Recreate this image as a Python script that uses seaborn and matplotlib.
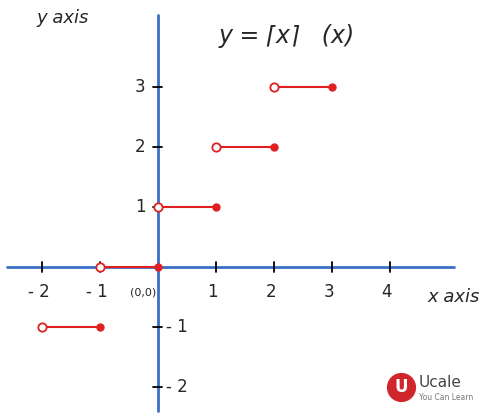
import numpy as np
import matplotlib.pyplot as plt
import seaborn as sns

sns.set_style("white")

# ceiling function pieces: open at left end, closed at right end
seg_left = [-2, -1, 0, 1, 2]
seg_right = [-1, 0, 1, 2, 3]
seg_y = [-1, 0, 1, 2, 3]
x_ticks = [-2, -1, 1, 2, 3, 4]
y_ticks = [-2, -1, 1, 2, 3]

fig = plt.figure(figsize=(5, 4.2), dpi=100)
ax = fig.add_axes([0, 0, 1, 1])
ax.set_xlim(-2.72, 5.9)
ax.set_ylim(-2.55, 4.45)
ax.axis("off")

blue = "#3a6fc4"
red = "#e02020"
ax.plot([-2.6, 5.1], [0, 0], color=blue, lw=2)
ax.plot([0, 0], [-2.4, 4.2], color=blue, lw=2)

for x in x_ticks:
    ax.plot([x, x], [-0.08, 0.08], color="black", lw=1.3)
    ax.text(x - 0.05, -0.42, str(x).replace("-", "- "), ha="center", va="center", fontsize=12)
for y in y_ticks:
    ax.plot([-0.08, 0.08], [y, y], color="black", lw=1.3)
    tx = -0.3 if y > 0 else 0.33
    ax.text(tx, y, str(y).replace("-", "- "), ha="center", va="center", fontsize=12)

ax.text(-0.25, -0.42, "(0,0)", ha="center", va="center", fontsize=8)
ax.plot(0, 0, "o", color=red, ms=4)

for a, b, y in zip(seg_left, seg_right, seg_y):
    sns.lineplot(x=[a, b], y=[y, y], color=red, lw=1.5, ax=ax)
    ax.plot(a, y, "o", mfc="white", mec=red, ms=6, mew=1.3)
    ax.plot(b, y, "o", color=red, ms=5)

ax.text(1.05, 3.85, "y = ⌈x⌉   (x)", fontsize=17, style="italic", va="center")
ax.text(-2.1, 4.15, "y axis", fontsize=13, style="italic", va="center")
ax.text(4.65, -0.5, "x axis", fontsize=13, style="italic", va="center")

# logo
ax.plot(4.2, -2.0, "o", color="#d0262b", ms=20)
ax.text(4.2, -2.0, "U", color="white", fontsize=12, weight="bold", ha="center", va="center")
ax.text(4.5, -1.93, "Ucale", fontsize=11, color="#444444", va="center")
ax.text(4.5, -2.17, "You Can Learn", fontsize=5.5, color="#777777", va="center")

fig.savefig("out.png")
